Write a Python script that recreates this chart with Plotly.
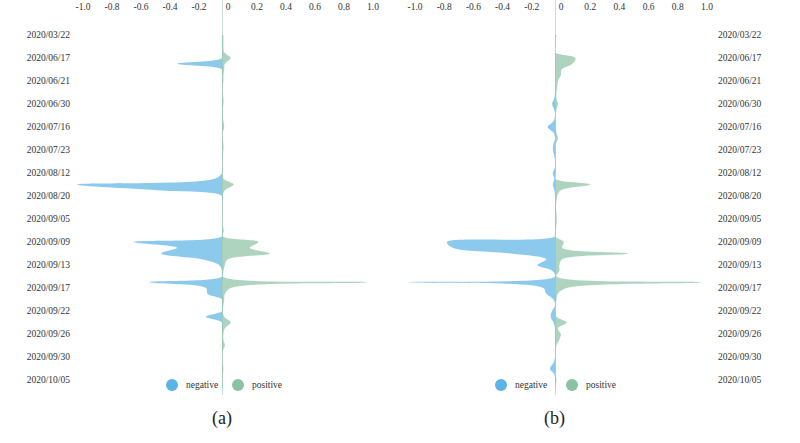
import plotly.graph_objects as go

# ---------------- data ----------------
dates = [
    "2020/03/22", "2020/04/10", "2020/05/06", "2020/06/02",
    "2020/06/17", "2020/06/18", "2020/06/19", "2020/06/20",
    "2020/06/21", "2020/06/23", "2020/06/25", "2020/06/28",
    "2020/06/30", "2020/07/04", "2020/07/08", "2020/07/12",
    "2020/07/16", "2020/07/18", "2020/07/20", "2020/07/21",
    "2020/07/23", "2020/07/29", "2020/08/03", "2020/08/08",
    "2020/08/12", "2020/08/14", "2020/08/16", "2020/08/18",
    "2020/08/20", "2020/08/24", "2020/08/28", "2020/09/01",
    "2020/09/05", "2020/09/06", "2020/09/07", "2020/09/08",
    "2020/09/09", "2020/09/10", "2020/09/11", "2020/09/12",
    "2020/09/13", "2020/09/14", "2020/09/15", "2020/09/16",
    "2020/09/17", "2020/09/18", "2020/09/19", "2020/09/21",
    "2020/09/22", "2020/09/23", "2020/09/24", "2020/09/25",
    "2020/09/26", "2020/09/27", "2020/09/28", "2020/09/29",
    "2020/09/30", "2020/10/01", "2020/10/02", "2020/10/04",
    "2020/10/05", "2020/10/06", "2020/10/07",
]
label_dates = dates[::4]

neg_a = [0, 0, 0, 0, 0, -0.31, 0, 0,
         0, 0, 0, 0, 0, 0, 0, 0,
         0, 0, 0, 0, 0, 0, 0, 0,
         0, -0.05, -1.0, -0.45, 0, 0, 0, 0,
         0, 0, 0, 0, -0.61, -0.31, -0.42, -0.14,
         -0.02, 0, 0, -0.50, -0.11, -0.10, 0, 0,
         0, -0.11, 0, 0, 0, 0, 0, 0,
         0, 0, 0, 0, 0, 0, 0]
pos_a = [0.01, 0.01, 0.01, 0.015, 0.06, 0.02, 0.015, 0.01,
         0.01, 0.005, 0.005, 0.01, 0.01, 0.005, 0.005, 0.01,
         0.015, 0.005, 0.005, 0.01, 0.01, 0.005, 0.005, 0.005,
         0.005, 0.01, 0.08, 0.02, 0.005, 0.005, 0.005, 0.005,
         0.005, 0.005, 0.012, 0.005, 0.25, 0.19, 0.33, 0.04,
         0.02, 0.01, 0.005, 1.0, 0.06, 0.02, 0.015, 0.01,
         0.005, 0.015, 0.06, 0.02, 0.01, 0.01, 0.02, 0.005,
         0.005, 0.005, 0.01, 0.005, 0.005, 0.005, 0]

neg_b = [0, 0, 0, 0, 0, 0, 0, 0,
         0, 0, 0, -0.005, -0.02, -0.005, 0, -0.01,
         -0.05, -0.01, 0, -0.01, -0.015, -0.005, 0, 0,
         -0.015, -0.005, -0.015, -0.005, 0, 0, 0, 0,
         0, 0, 0, 0, -0.74, -0.70, -0.30, -0.06,
         -0.12, -0.02, 0, -1.0, -0.08, -0.06, -0.01, 0,
         -0.02, -0.03, -0.01, 0, 0, 0, 0, 0,
         0, -0.01, -0.035, -0.005, 0, 0, 0]
pos_b = [0.01, 0.005, 0.005, 0, 0.14, 0.12, 0.045, 0.04,
         0.02, 0.015, 0.01, 0.01, 0.02, 0.01, 0.005, 0.005,
         0.005, 0.01, 0.02, 0.005, 0.005, 0.005, 0.005, 0.005,
         0.005, 0, 0.24, 0.04, 0.015, 0.01, 0.005, 0.01,
         0.012, 0.01, 0.005, 0, 0.06, 0.05, 0.50, 0.05,
         0.03, 0.03, 0.01, 1.0, 0.08, 0.02, 0.01, 0.005,
         0.005, 0.01, 0.08, 0.02, 0.04, 0.03, 0.01, 0.005,
         0.005, 0.005, 0.005, 0.005, 0.01, 0.005, 0]

x_ticks = [-1.0, -0.8, -0.6, -0.4, -0.2, 0, 0.2, 0.4, 0.6, 0.8, 1.0]
x_tick_text = ["-1.0", "-0.8", "-0.6", "-0.4", "-0.2", "0", "0.2", "0.4", "0.6", "0.8", "1.0"]

BLUE = "#5BB4E5"
GREEN = "#8CC2A4"
BLUE_FILL = "rgba(91,180,229,0.7)"
GREEN_FILL = "rgba(140,194,164,0.7)"
FONT = "Liberation Serif, Times New Roman, serif"
W, H = 800, 443


def px(x):
    return x / W


def py(y):
    return 1 - y / H


fig = go.Figure()
for vals, fillc, xa, ya in [(neg_a, BLUE_FILL, "x", "y"), (pos_a, GREEN_FILL, "x", "y"),
                            (neg_b, BLUE_FILL, "x2", "y2"), (pos_b, GREEN_FILL, "x2", "y2")]:
    fig.add_trace(go.Scatter(
        x=vals, y=dates, mode="lines", fill="tozerox", fillcolor=fillc,
        line=dict(width=0, shape="spline", smoothing=1, color=fillc),
        xaxis=xa, yaxis=ya, showlegend=False, hoverinfo="skip"))

xcommon = dict(range=[-1.12, 1.12], side="top", tickvals=x_ticks, ticktext=x_tick_text,
               showgrid=False, zeroline=True, zerolinecolor="#c9dfd5", zerolinewidth=1,
               showline=False, ticks="", ticklabelposition="inside", ticklabelshift=6,
               tickfont=dict(family=FONT, size=9.5, color="#333"), fixedrange=True,
               automargin=False)
ycommon = dict(type="category", categoryarray=dates, range=[62.6, -6.09],
               tickmode="array", tickvals=label_dates, ticktext=label_dates,
               showgrid=False, zeroline=False, showline=False, ticks="",
               tickfont=dict(family=FONT, size=9.5, color="#333"),
               domain=[48 / H, 1], automargin=False, fixedrange=True)

fig.update_layout(
    width=W, height=H,
    margin=dict(l=0, r=0, t=0, b=0),
    paper_bgcolor="white", plot_bgcolor="white",
    xaxis=dict(xcommon, domain=[px(222 - 1.12 * 145), px(222 + 1.12 * 145)], anchor="y"),
    xaxis2=dict(xcommon, domain=[px(555 - 1.12 * 146), px(555 + 1.12 * 146)], anchor="y2"),
    yaxis=dict(ycommon, anchor="free", side="left", position=px(70)),
    yaxis2=dict(ycommon, anchor="free", side="right", position=px(717)),
)

# legend markers and captions
legend_items = [(172, BLUE, "negative"), (238, GREEN, "positive"),
                (501, BLUE, "negative"), (572, GREEN, "positive")]
for cx, col, txt in legend_items:
    fig.add_shape(type="circle", xref="paper", yref="paper",
                  x0=px(cx - 6), x1=px(cx + 6), y0=py(391), y1=py(379),
                  fillcolor=col, line=dict(width=0))
    fig.add_annotation(x=px(cx + 12), y=py(385), xref="paper", yref="paper",
                       text=txt, showarrow=False, xanchor="left", yanchor="middle",
                       font=dict(family=FONT, size=9.5, color="#333"))

for cx, txt in [(221.5, "(a)"), (554, "(b)")]:
    fig.add_annotation(x=px(cx), y=py(418), xref="paper", yref="paper",
                       text=txt, showarrow=False, xanchor="center", yanchor="middle",
                       font=dict(family=FONT, size=18, color="#222"))

fig.write_html("out.html", config={"displayModeBar": False},
               post_script="document.body.style.margin = '0';")
